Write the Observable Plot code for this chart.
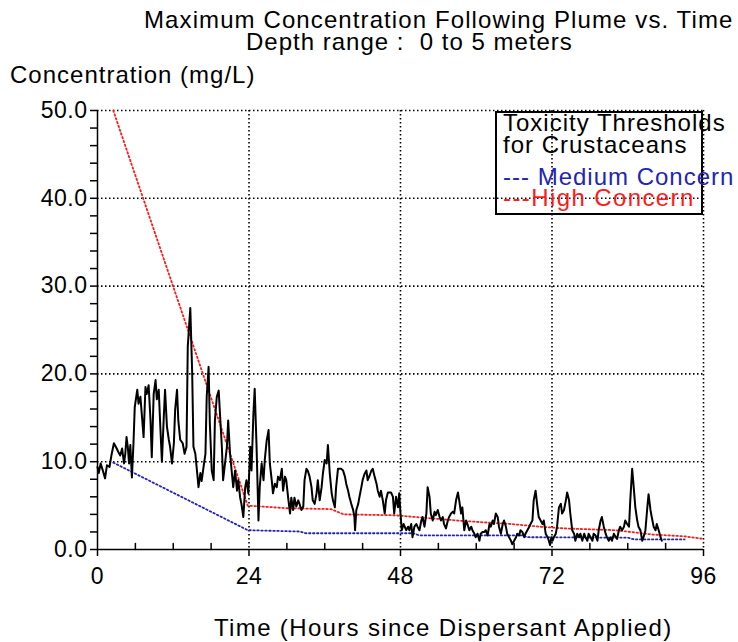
<!DOCTYPE html>
<html><head><meta charset="utf-8">
<script src="https://cdn.jsdelivr.net/npm/d3@7"></script>
<script src="https://cdn.jsdelivr.net/npm/@observablehq/plot@0.6"></script>
<style>
body{margin:0;background:#fff;}
#wrap{position:relative;width:738px;height:642px;font-family:"Liberation Sans",Arial,sans-serif;color:#000;overflow:hidden;}
.t{position:absolute;white-space:nowrap;font-size:24px;line-height:20px;letter-spacing:1px;}
#chart{position:absolute;left:0;top:0;}
#legendBox{position:absolute;left:495px;top:111px;width:208px;height:104px;border:2px solid #000;box-sizing:border-box;}
</style></head><body>
<div id="wrap">
<div id="chart"></div>
<div class="t" style="left:144px;top:10px;letter-spacing:1.1px">Maximum Concentration Following Plume vs. Time</div>
<div class="t" style="left:246px;top:32px">Depth range :&nbsp; 0 to 5 meters</div>
<div class="t" style="left:10px;top:65px">Concentration (mg/L)</div>
<div class="t" style="left:214px;top:618px;letter-spacing:1.35px">Time (Hours since Dispersant Applied)</div>
<div id="legendBox"></div>
<div class="t" style="left:503px;top:113px">Toxicity Thresholds</div>
<div class="t" style="left:503px;top:135px">for Crustaceans</div>
<div class="t" style="left:503px;top:167px;color:#2424b4">--- Medium Concern</div>
<div class="t" style="left:503px;top:188px;color:#ff1a1a;letter-spacing:1.4px">---High Concern</div>
</div>
<script>
// Maximum concentration following plume: [hours, mg/L]
const maxConcentration = [
[0,9.4],[0.2,8.7],[0.5,9.8],[0.8,9.1],[1.2,8.1],[1.5,9.6],[1.9,9.4],[2.2,10.7],[2.6,12.1],[2.9,11.7],[3.3,11.1],[3.6,10.7],[3.9,11.5],[4.2,9.8],[4.4,10.9],[4.6,12.8],[4.8,11.7],[5.0,9.8],[5.2,11.9],[5.45,8.2],[5.7,12.1],[5.9,16.2],[6.3,18.2],[6.5,16.6],[6.8,17.4],[7.05,15.1],[7.3,12.8],[7.6,18.5],[7.8,17.7],[8.1,18.7],[8.4,14.7],[8.6,10.5],[8.9,17.7],[9.2,19.3],[9.4,17.1],[9.7,18.2],[9.95,14.0],[10.2,10.0],[10.5,15.1],[10.7,18.2],[11.0,14.0],[11.3,12.5],[11.5,11.7],[11.8,9.8],[12.1,12.1],[12.3,15.9],[12.6,18.2],[12.8,14.7],[13.1,12.5],[13.5,12.1],[13.8,10.9],[14.1,11.7],[14.3,23.1],[14.7,27.5],[15.0,20.1],[15.2,11.7],[15.5,10.9],[15.7,9.4],[16.0,7.1],[16.3,8.7],[16.5,7.8],[16.8,9.4],[17.1,10.9],[17.3,17.4],[17.6,20.8],
[17.8,14.3],[18.1,9.0],[18.4,7.9],[18.6,14.7],[18.9,17.4],[19.2,18.1],[19.4,15.5],[19.7,11.7],[19.9,7.9],[20.2,9.8],[20.5,11.7],[20.7,14.7],[21.0,10.9],[21.3,8.6],[21.5,7.1],[21.8,9.0],[22.1,6.7],[22.3,7.9],[22.6,5.9],[22.8,5.2],[23.1,3.7],[23.4,7.1],[23.6,7.9],[23.9,6.4],[24.2,11.7],[24.4,9.0],[24.7,15.5],[24.9,18.3],[25.2,11.7],[25.5,3.3],[25.7,7.1],[26.0,9.8],[26.3,7.9],[26.5,10.2],[26.8,12.4],[27.1,13.6],[27.3,9.8],[27.6,7.9],[27.8,6.4],[28.1,7.5],[28.4,7.1],[28.6,8.3],[28.9,7.9],[29.2,9.2],[29.4,6.7],[29.7,8.3],[29.9,7.9],[30.2,5.9],[30.5,4.1],[30.7,5.9],[31.0,4.5],[31.2,5.9],[31.5,4.9],[31.8,5.6],[32.0,5.2],[32.3,4.5],[32.6,4.9],[32.8,7.9],[33.1,9.2],[33.3,9.0],[33.6,8.3],[33.9,7.1],[34.1,5.6],[34.4,5.2],[34.7,6.4],[34.9,7.9],
[35.2,5.6],[35.5,7.1],[35.7,8.6],[36.0,10.2],[36.3,9.8],[36.5,11.9],[36.8,8.6],[37.1,6.4],[37.3,5.6],[37.6,4.8],[37.8,7.1],[38.1,9.2],[38.4,9.2],[38.6,9.2],[38.9,9.0],[39.2,8.3],[39.4,7.5],[39.7,6.7],[39.9,6.0],[40.2,5.2],[40.5,4.5],[40.7,3.7],[40.8,2.2],[41.0,4.5],[41.3,5.2],[41.5,6.0],[41.8,7.1],[42.0,7.9],[42.3,8.6],[42.6,9.0],[42.8,7.9],[43.1,8.4],[43.4,9.0],[43.6,9.2],[43.9,8.3],[44.2,7.5],[44.4,6.7],[44.7,6.0],[44.9,6.7],[45.2,5.6],[45.5,4.1],[45.7,5.6],[46.0,6.5],[46.3,6.5],[46.5,6.5],[46.8,6.0],[47.0,4.1],[47.3,6.0],[47.6,4.8],[47.8,6.4],[48.0,4.1],[48.2,2.2],[48.5,2.9],[48.9,2.2],[49.2,2.6],[49.4,2.2],[49.7,2.9],[49.9,1.4],[50.2,2.6],[50.5,2.9],[50.7,2.6],[51.0,2.2],[51.3,3.3],[51.5,3.7],[51.8,2.6],[52.1,4.1],[52.3,7.1],
[52.6,6.0],[52.8,4.1],[53.1,3.3],[53.4,4.3],[53.6,3.9],[53.9,4.5],[54.2,3.7],[54.4,3.3],[54.7,3.7],[54.9,2.9],[55.2,2.4],[55.5,3.3],[55.7,3.7],[56.0,4.1],[56.3,4.3],[56.5,4.1],[56.8,5.6],[57.1,6.5],[57.3,5.6],[57.6,4.1],[57.8,4.8],[58.1,2.2],[58.4,3.3],[58.6,2.9],[58.9,2.2],[59.2,2.6],[59.4,2.2],[59.7,1.8],[59.9,1.4],[60.2,1.8],[60.5,1.0],[60.7,1.8],[61.0,2.0],[61.3,2.0],[61.5,2.2],[61.8,1.6],[62.1,2.9],[62.3,2.6],[62.6,3.3],[62.8,2.9],[63.1,4.1],[63.4,3.7],[63.6,2.6],[63.9,1.8],[64.2,2.9],[64.4,3.3],[64.7,2.6],[64.9,1.8],[65.2,1.4],[65.5,1.0],[65.7,0.6],[66.0,1.0],[66.3,1.4],[66.5,1.8],[66.8,1.6],[67.0,2.2],[67.3,2.0],[67.6,1.4],[67.8,1.8],[68.1,2.2],[68.4,2.6],[68.6,2.9],[68.9,3.3],[69.1,5.6],[69.4,6.7],[69.7,4.8],[69.9,3.7],
[70.2,3.3],[70.5,2.9],[70.7,3.3],[71.0,1.8],[71.3,1.4],[71.5,1.0],[71.7,0.5],[71.9,1.4],[72.1,1.0],[72.3,1.4],[72.6,1.8],[72.8,2.6],[73.1,4.8],[73.4,5.2],[73.6,4.1],[73.9,4.5],[74.2,5.6],[74.4,6.5],[74.7,5.6],[74.9,4.1],[75.2,2.2],[75.5,1.8],[75.7,1.0],[76.0,1.8],[76.3,1.4],[76.5,1.8],[76.8,1.0],[77.1,1.8],[77.3,1.4],[77.6,1.0],[77.8,1.8],[78.1,1.4],[78.4,1.0],[78.6,1.8],[78.9,1.6],[79.2,1.0],[79.4,2.2],[79.7,3.3],[79.9,3.7],[80.2,2.6],[80.5,1.8],[80.7,1.4],[81.0,1.0],[81.3,1.4],[81.5,1.0],[81.8,1.8],[82.1,1.4],[82.3,1.2],[82.6,2.2],[82.8,2.6],[83.1,2.2],[83.4,2.6],[83.6,3.3],[83.9,2.9],[84.2,2.6],[84.4,5.6],[84.7,9.2],[84.9,7.5],[85.2,4.8],[85.5,3.3],[85.7,2.6],[86.0,2.2],[86.3,1.0],[86.5,1.4],[86.8,2.2],[87.1,4.8],[87.3,6.3],[87.6,4.5],[87.8,3.7],[88.1,2.6],[88.4,2.2],[88.6,2.9],[88.9,2.2],[89.2,1.4],[89.4,1.0]
];
// Toxicity thresholds for crustaceans: [hours, mg/L]
const highConcern = [[2.5,50],[23.8,5.0],[30,4.7],[37,4.6],[39,4.0],[47,3.9],[52,3.6],[57,3.3],[61,3.1],[65.5,2.9],[70,2.6],[74,2.4],[82,2.2],[88,1.7],[93,1.5],[96,1.2]];
const mediumConcern = [[2.5,9.9],[23.8,2.2],[32,2.05],[33,1.85],[50,1.85],[51,1.6],[67.5,1.6],[68,1.4],[84,1.35],[85,1.15],[93,1.15]];
const xMajorTicks = [0,24,48,72,96];
const xMinorTicks = [6,12,18,30,36,42,54,60,66,78,84,90];
const yTicks = d3.range(0,51,2);
const yGrid = [10,20,30,40,50];
const xGrid = [24,48,72,96];

const dots = "1.5,2.5";
const chart = Plot.plot({
  width: 738, height: 642,
  marginLeft: 97, marginRight: 35, marginTop: 110, marginBottom: 93,
  style: {fontFamily: '"Liberation Sans", Arial, sans-serif', fontSize: "23px", background: "transparent", color: "#000", letterSpacing: "0.5px"},
  x: {domain: [0,96]},
  y: {domain: [0,50]},
  marks: [
    Plot.gridX(xGrid, {stroke: "#000", strokeOpacity: 1, strokeWidth: 1.6, strokeDasharray: dots}),
    Plot.gridY(yGrid, {stroke: "#000", strokeOpacity: 1, strokeWidth: 1.6, strokeDasharray: dots}),
    Plot.axisY(yTicks, {tickSize: 7, tickPadding: 3, strokeWidth: 1.5, fontSize: 23, label: null,
      tickFormat: d => d % 10 === 0 ? d3.format(".1f")(d) : ""}),
    Plot.axisX(xMajorTicks, {tickSize: 7, tickPadding: 11, strokeWidth: 1.5, fontSize: 23, label: null, tickFormat: "d"}),
    Plot.vector(xMinorTicks, {x: d => d, y: 0, length: 6, anchor: "start", stroke: "#000", strokeWidth: 1.5,
      shape: {draw(ctx, l) { ctx.moveTo(0, 0); ctx.lineTo(0, -l); }}}),
    Plot.ruleX([0], {stroke: "#000", strokeWidth: 1.5}),
    Plot.ruleY([0], {stroke: "#000", strokeWidth: 1.5}),
    Plot.line(mediumConcern, {x: d => d[0], y: d => d[1], stroke: "#2424b4", strokeWidth: 1.8, strokeDasharray: dots}),
    Plot.line(highConcern, {x: d => d[0], y: d => d[1], stroke: "#ff1a1a", strokeWidth: 1.8, strokeDasharray: dots}),
    Plot.line(maxConcentration, {x: d => d[0], y: d => d[1], stroke: "#000", strokeWidth: 2})
  ]
});
document.getElementById("chart").appendChild(chart);
</script>
</body></html>
